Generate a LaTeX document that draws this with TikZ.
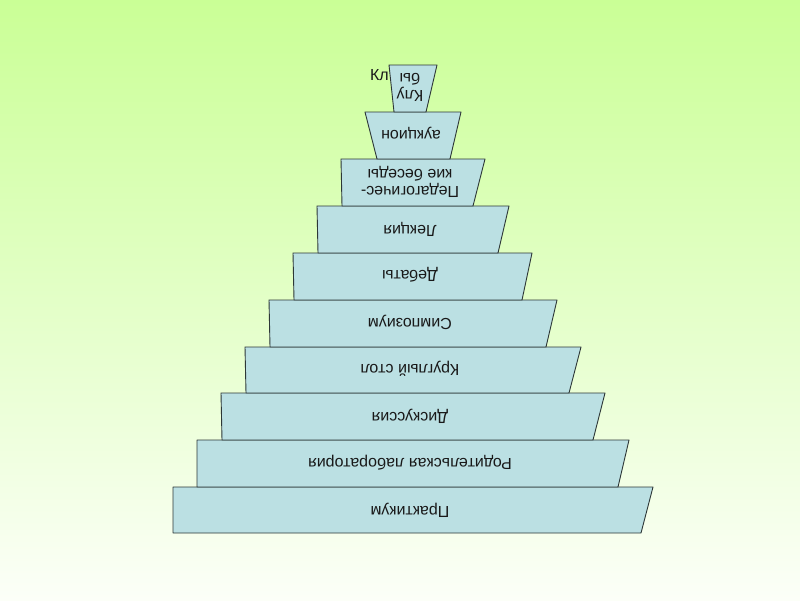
\documentclass[tikz,border=0pt]{standalone}
\usepackage{fontspec}
\setmainfont{Liberation Sans}
\begin{document}
\begin{tikzpicture}[x=1pt,y=-1pt,
  box/.style={fill={rgb,255:red,187;green,224;blue,227}, draw={rgb,255:red,45;green,55;blue,55}, line width=0.9pt, line join=round},
  lbl/.style={rotate=180, font=\fontsize{16}{17}\selectfont, text={rgb,255:red,25;green,25;blue,25}, align=center, inner sep=0pt}]
\shade[top color={rgb,255:red,202;green,255;blue,150}, bottom color={rgb,255:red,252;green,255;blue,248}] (0,0) rectangle (800,600);
\useasboundingbox (0,0) rectangle (800,600);
% levels
\draw[box] (173,487) -- (653,487) -- (641,533) -- (173,533) -- cycle;
\draw[box] (197,440) -- (629,440) -- (618,487) -- (197,487) -- cycle;
\draw[box] (221,393) -- (605,393) -- (593,440) -- (222,440) -- cycle;
\draw[box] (245,347) -- (581,347) -- (569,393) -- (246,393) -- cycle;
\draw[box] (269,300) -- (557,300) -- (546,347) -- (270,347) -- cycle;
\draw[box] (293,253) -- (532,253) -- (522,300) -- (294,300) -- cycle;
\draw[box] (317,206) -- (509,206) -- (498,253) -- (318,253) -- cycle;
\draw[box] (341,159) -- (485,159) -- (473,206) -- (342,206) -- cycle;
\draw[box] (365,112) -- (461,112) -- (450,159) -- (377,159) -- cycle;
\node[anchor=east, inner sep=0pt, font=\fontsize{16}{17}\selectfont, text={rgb,255:red,25;green,25;blue,25}] (kl) at (389,75) {Кл};
\draw[box] (389,65) -- (437,65) -- (426,112) -- (394,112) -- cycle;
% labels
\node[lbl] (l1) at (410,510) {Практикум};
\node[lbl] (l2) at (410,463) {Родительская лаборатория};
\node[lbl] (l3) at (410,416) {Дискуссия};
\node[lbl] (l4) at (410,369) {Круглый стол};
\node[lbl] (l5) at (410,322) {Симпозиум};
\node[lbl] (l6) at (410,275) {Дебаты};
\node[lbl] (l7) at (410,229) {Лекция};
\node[lbl] (l8) at (410,182) {Педагогичес-\\кие беседы};
\node[lbl] (l9) at (411,133) {аукцион};
\node[lbl] (l10) at (410,87) {Клу\\бы};
\end{tikzpicture}
\end{document}
